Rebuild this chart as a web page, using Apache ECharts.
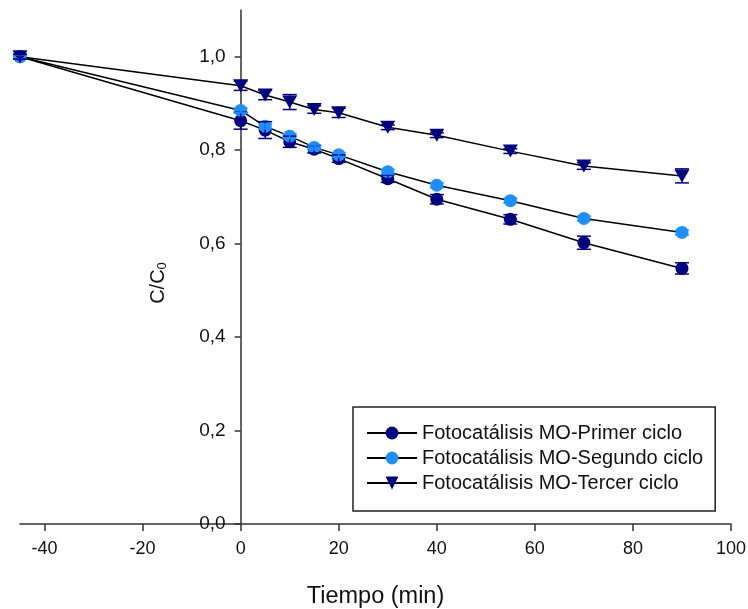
<!DOCTYPE html>
<html>
<head>
<meta charset="utf-8">
<script src="https://cdn.jsdelivr.net/npm/echarts@6/dist/echarts.min.js"></script>
<style>html,body{margin:0;padding:0;background:#fff}#c{width:748px;height:609px}</style>
</head>
<body>
<div id="c"></div>
<script>
var time = [-45, 0, 5, 10, 15, 20, 30, 40, 55, 70, 90];
var primer = [1.0, 0.863, 0.843, 0.818, 0.802, 0.782, 0.739, 0.695, 0.652, 0.602, 0.547];
var segundo = [1.0, 0.885, 0.851, 0.830, 0.806, 0.790, 0.754, 0.725, 0.692, 0.654, 0.624];
var tercer = [1.0, 0.938, 0.918, 0.903, 0.887, 0.880, 0.849, 0.832, 0.798, 0.766, 0.745];
var primerErr = [0.005, 0.018, 0.018, 0.012, 0.008, 0.008, 0.008, 0.010, 0.010, 0.014, 0.012];
var segundoErr = [0.004, 0.005, 0.005, 0.005, 0.005, 0.005, 0.005, 0.005, 0.005, 0.005, 0.005];
var tercerErr = [0.005, 0.010, 0.010, 0.016, 0.008, 0.010, 0.005, 0.005, 0.005, 0.007, 0.015];
var xTicks = [-40, -20, 0, 20, 40, 60, 80, 100];
var yTicks = [0, 0.2, 0.4, 0.6, 0.8, 1.0];
var names = ['Fotocatálisis MO-Primer ciclo', 'Fotocatálisis MO-Segundo ciclo', 'Fotocatálisis MO-Tercer ciclo'];

var NAVY = '#000080', LIGHT = '#1E8FFF';
var FONT = 'Liberation Sans, Arial, sans-serif';
var GRID_LEFT = 20, X_MIN = -45, X_MAX = 100, GRID_RIGHT = 17, W = 748;

function pts(vals) { return time.map(function (t, i) { return [t, vals[i]]; }); }
function errData(vals, errs) { return time.map(function (t, i) { return [t, vals[i] - errs[i], vals[i] + errs[i]]; }); }

function errSeries(vals, errs, color) {
  return {
    type: 'custom',
    data: errData(vals, errs),
    encode: { x: 0, y: [1, 2] },
    z: 3,
    silent: true,
    renderItem: function (params, api) {
      var x = api.value(0);
      var lo = api.coord([x, api.value(1)]);
      var hi = api.coord([x, api.value(2)]);
      var w = 7;
      var st = { stroke: color, lineWidth: 1.5 };
      return {
        type: 'group',
        children: [
          { type: 'line', shape: { x1: lo[0], y1: lo[1], x2: hi[0], y2: hi[1] }, style: st },
          { type: 'line', shape: { x1: lo[0] - w, y1: lo[1], x2: lo[0] + w, y2: lo[1] }, style: st },
          { type: 'line', shape: { x1: hi[0] - w, y1: hi[1], x2: hi[0] + w, y2: hi[1] }, style: st }
        ]
      };
    }
  };
}

function lineSeries(name, vals, color, symbol, size, rot) {
  return {
    name: name,
    type: 'line',
    data: pts(vals),
    symbol: symbol,
    symbolSize: size,
    symbolRotate: rot || 0,
    showAllSymbol: true,
    z: 2,
    lineStyle: { color: '#000', width: 1.5 },
    itemStyle: { color: color, borderWidth: 0 },
    emphasis: { disabled: true },
    animation: false
  };
}

// pixel offset so that the y axis sits at x = 0 of the time axis
var plotW = W - GRID_LEFT - GRID_RIGHT;
var yAxisOffset = -plotW * (0 - X_MIN) / (X_MAX - X_MIN);

var chart = echarts.init(document.getElementById('c'), null, { renderer: 'canvas' });
chart.setOption({
  animation: false,
  backgroundColor: '#fff',
  textStyle: { fontFamily: FONT },
  grid: { left: GRID_LEFT, right: GRID_RIGHT, top: 10, bottom: 85, containLabel: false, outerBoundsMode: 'none' },
  legend: {
    orient: 'vertical',
    left: 353, top: 407,
    padding: [16, 12, 18, 13],
    borderColor: '#222', borderWidth: 1.5,
    itemWidth: 50, itemHeight: 16, itemGap: 5,
    textStyle: { fontSize: 20, lineHeight: 20, color: '#111', fontFamily: FONT },
    data: names
  },
  xAxis: {
    type: 'value', min: X_MIN, max: X_MAX,
    name: 'Tiempo (min)', nameLocation: 'middle', nameGap: 61,
    nameTextStyle: { fontSize: 23.5, color: '#111', fontFamily: FONT },
    axisLine: { onZero: false, lineStyle: { color: '#333', width: 1.5 } },
    axisTick: { show: true, length: 7, customValues: xTicks, lineStyle: { color: '#333', width: 1.5 } },
    axisLabel: { customValues: xTicks, fontSize: 18, color: '#111', margin: 16, fontFamily: FONT },
    splitLine: { show: false }
  },
  yAxis: {
    type: 'value', min: 0, max: 1.1,
    position: 'left', offset: yAxisOffset,
    name: 'C/C{sub|0}', nameLocation: 'middle', nameGap: 72, nameRotate: 90,
    nameTextStyle: {
      fontSize: 20, color: '#111', fontFamily: FONT, padding: [0, 32, 0, 0],
      rich: { sub: { fontSize: 13, verticalAlign: 'bottom', fontFamily: FONT, color: '#111' } }
    },
    axisLine: { show: true, onZero: false, lineStyle: { color: '#333', width: 1.5 } },
    axisTick: { show: true, length: 6, customValues: yTicks, lineStyle: { color: '#333', width: 1.5 } },
    axisLabel: {
      customValues: yTicks, fontSize: 19, color: '#111', margin: 15, fontFamily: FONT,
      formatter: function (v) { return v.toFixed(1).replace('.', ','); }
    },
    splitLine: { show: false }
  },
  series: [
    lineSeries(names[0], primer, NAVY, 'circle', 13),
    lineSeries(names[1], segundo, LIGHT, 'circle', 13),
    lineSeries(names[2], tercer, NAVY, 'triangle', [15, 13], 180),
    errSeries(primer, primerErr, NAVY),
    errSeries(segundo, segundoErr, LIGHT),
    errSeries(tercer, tercerErr, NAVY)
  ]
});
</script>
</body>
</html>
